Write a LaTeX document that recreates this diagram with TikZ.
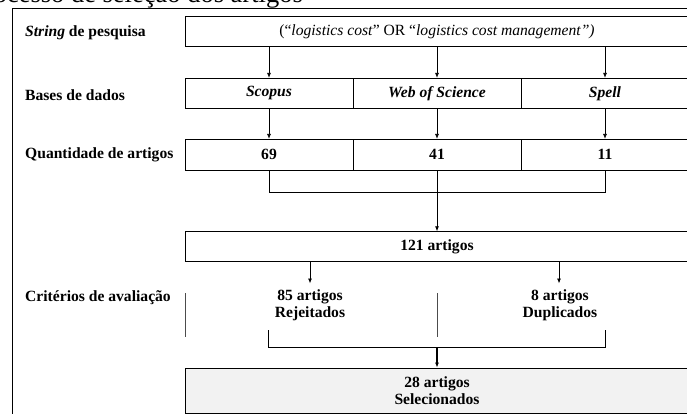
\documentclass[tikz,border=0pt]{standalone}
\usepackage{fontspec}
\setmainfont{Liberation Serif}
\usetikzlibrary{arrows.meta}
\begin{document}
\begin{tikzpicture}[x=1pt,y=-1pt,
  every node/.style={font=\fontsize{15.6}{17.5}\selectfont\bfseries},
  box/.style={draw=black,line width=0.8pt,rectangle,minimum height=30pt,inner sep=0pt},
  cell/.style={box,minimum width=168pt},
  wide/.style={box,minimum width=504pt},
  lbl/.style={anchor=west,inner sep=0pt},
  arr/.style={line width=0.8pt,-{Latex[length=5pt,width=4pt]}},
  ln/.style={line width=0.8pt},
  divider/.style={line width=0.8pt,draw=black!70}]
\useasboundingbox (0,0) rectangle (687,414);
\clip (0,0) rectangle (687,414);
% clipped title
\node[anchor=base west,inner sep=0pt,font=\fontsize{26.5}{30}\selectfont] (title) at (-30,2.5) {Processo de seleção dos artigos};
% outer frame
\draw[line width=1pt] (12,430) -- (12,9) -- (700,9);
% left labels
\node[lbl] (l1) at (25,33) {\textit{String} de pesquisa};
\node[lbl] (l2) at (25,95) {Bases de dados};
\node[lbl] (l3) at (25,154.5) {Quantidade de artigos};
\node[lbl] (l4) at (25,298) {Critérios de avaliação};
% boxes
\node[wide,font=\fontsize{15.6}{17.5}\selectfont] (str) at (437,31.7) {(“\textit{logistics cost}” OR “\textit{logistics cost management”)}};
\node[cell] (sc) at (269,93.3) {\textit{Scopus}};
\node[cell] (wos) at (437,93.3) {\textit{Web of Science}};
\node[cell] (sp) at (605,93.3) {\textit{Spell}};
\node[cell,minimum height=30.7pt] (q1) at (269,154.7) {69};
\node[cell,minimum height=30.7pt] (q2) at (437,154.7) {41};
\node[cell,minimum height=30.7pt] (q3) at (605,154.7) {11};
\node[wide] (n121) at (437,246.7) {121 artigos};
\node[align=center,inner sep=0pt,minimum height=0pt] (r85) at (310,305) {85 artigos\\Rejeitados};
\node[align=center,inner sep=0pt] (d8) at (560,305) {8 artigos\\Duplicados};
\node[wide,minimum height=45pt,fill=black!5,align=center] (fin) at (437,390.5) {28 artigos\\Selecionados};
% arrows top
\draw[arr] (str.south -| sc.north) -- (sc.north);
\draw[arr] (str.south -| wos.north) -- (wos.north);
\draw[arr] (str.south -| sp.north) -- (sp.north);
\draw[arr] (sc.south) -- (q1.north);
\draw[arr] (wos.south) -- (q2.north);
\draw[arr] (sp.south) -- (q3.north);
% bracket to 121
\coordinate (br) at (437,192.3);
\draw[ln] (q1.south) |- (br) -| (q3.south);
\draw[arr] (q2.south) -- (n121.north);
% arrows from 121
\coordinate (t1) at (310,283.5);
\coordinate (t2) at (559,283.5);
\draw[arr] (n121.south -| t1) -- (t1);
\draw[arr] (n121.south -| t2) -- (t2);
% dividers
\draw[divider] (185,293) -- (185,337);
\draw[divider] (437,293) -- (437,337);
% bottom bracket
\coordinate (bl) at (268,330);
\coordinate (bm) at (437,347.3);
\coordinate (bri) at (605.5,330);
\draw[ln] (bl) |- (bm) -| (bri);
\draw[arr,line width=1.2pt] (bm) -- (fin.north);
\end{tikzpicture}
\end{document}
